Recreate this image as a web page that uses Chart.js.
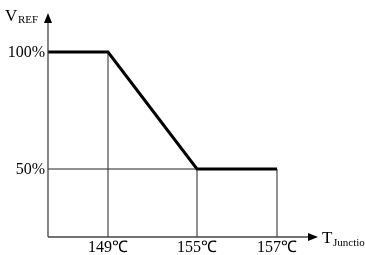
<!DOCTYPE html>
<html>
<head>
<meta charset="utf-8">
<script src="https://cdn.jsdelivr.net/npm/chart.js@4"></script>
<style>
    html, body { margin: 0; padding: 0; background: #fff; }
</style>
</head>
<body>
<canvas id="derating" width="365" height="255"></canvas>
<script>
// schematic positions (axis units), the axis is not to scale
const xTickLabels = ['149℃', '155℃', '157℃'];
const xTickPos = [60, 149, 229];
const yTickLabels = ['50%', '100%'];
const yTickPos = [68, 185];

// derating curve
const curveX = [0, 60, 149, 229];
const curveY = [185, 185, 68, 68];

const xMax = 270;
const yMax = 224;

const serif = '"Liberation Serif", "Times New Roman", serif';

function pts(xs, ys) {
    return xs.map((x, i) => ({ x: x, y: ys[i] }));
}

// thin guide lines: drops from the curve corners and the 50% level
const guides = [
    pts([xTickPos[0], xTickPos[0]], [0, yTickPos[1]]),
    pts([xTickPos[1], xTickPos[1]], [0, yTickPos[0]]),
    pts([xTickPos[2], xTickPos[2]], [0, yTickPos[0]]),
    pts([0, xTickPos[1]], [yTickPos[0], yTickPos[0]])
];

const axesPlugin = {
    id: 'axesPlugin',
    afterDatasetsDraw(chart) {
        const ctx = chart.ctx;
        const xs = chart.scales.x;
        const ys = chart.scales.y;
        const x0 = xs.getPixelForValue(0);
        const y0 = ys.getPixelForValue(0);
        const xEnd = xs.getPixelForValue(xMax);
        const yEnd = ys.getPixelForValue(yMax);

        ctx.save();
        ctx.strokeStyle = '#444';
        ctx.fillStyle = '#000';
        ctx.lineWidth = 1.3;
        ctx.beginPath();
        ctx.moveTo(x0, y0);
        ctx.lineTo(x0, yEnd + 8);
        ctx.moveTo(x0, y0);
        ctx.lineTo(xEnd - 8, y0);
        ctx.stroke();

        // arrow heads
        ctx.beginPath();
        ctx.moveTo(x0, yEnd);
        ctx.lineTo(x0 - 4, yEnd + 10);
        ctx.lineTo(x0 + 4, yEnd + 10);
        ctx.closePath();
        ctx.fill();
        ctx.beginPath();
        ctx.moveTo(xEnd, y0);
        ctx.lineTo(xEnd - 10, y0 - 4);
        ctx.lineTo(xEnd - 10, y0 + 4);
        ctx.closePath();
        ctx.fill();

        // tick labels
        ctx.font = '16px ' + serif;
        ctx.textBaseline = 'middle';
        ctx.textAlign = 'right';
        yTickPos.forEach((v, i) => {
            ctx.fillText(yTickLabels[i], x0 - 3, ys.getPixelForValue(v) + 1);
        });
        ctx.textAlign = 'center';
        xTickPos.forEach((v, i) => {
            ctx.fillText(xTickLabels[i], xs.getPixelForValue(v), y0 + 11);
        });

        // axis names
        ctx.textAlign = 'left';
        ctx.textBaseline = 'alphabetic';
        ctx.font = '17px ' + serif;
        ctx.fillText('V', 5, 21);
        ctx.font = '11px ' + serif;
        ctx.fillText('REF', 18, 23);
        ctx.font = '17px ' + serif;
        ctx.fillText('T', 322, 243);
        ctx.font = '11px ' + serif;
        ctx.fillText('Junction', 333, 246);
        ctx.restore();
    }
};

const datasets = guides.map(g => ({
    data: g,
    showLine: true,
    borderColor: '#222',
    borderWidth: 1,
    pointRadius: 0
}));
datasets.push({
    data: pts(curveX, curveY),
    showLine: true,
    borderColor: '#000',
    borderWidth: 3,
    pointRadius: 0
});

new Chart(document.getElementById('derating'), {
    type: 'scatter',
    data: { datasets: datasets },
    options: {
        responsive: false,
        animation: false,
        layout: { padding: { left: 48, right: 47, top: 13, bottom: 18 } },
        plugins: {
            legend: { display: false },
            tooltip: { enabled: false }
        },
        scales: {
            x: { type: 'linear', min: 0, max: xMax, display: false },
            y: { type: 'linear', min: 0, max: yMax, display: false }
        }
    },
    plugins: [axesPlugin]
});
</script>
</body>
</html>
